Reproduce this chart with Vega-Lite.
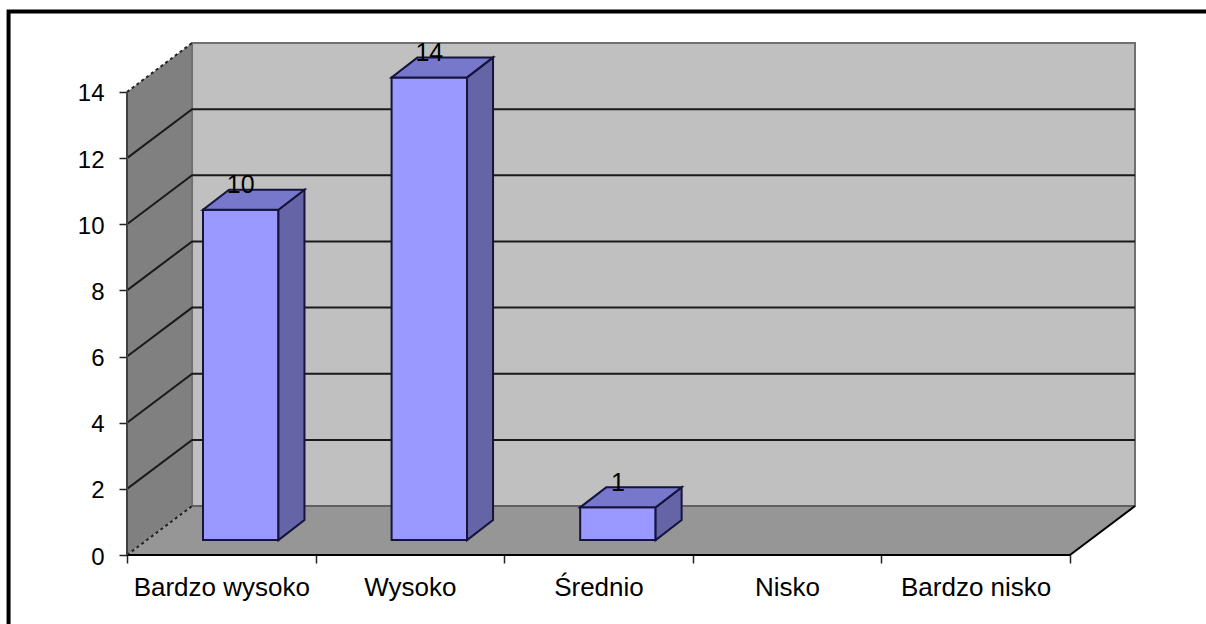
{
"$schema":"https://vega.github.io/schema/vega-lite/v6.json",
"width":1008,"height":512,
"autosize":{"type":"none"},
"padding":{"left":127,"top":43,"right":71,"bottom":69},
"background":"#ffffff",
"config":{"view":{"stroke":null},"font":"Liberation Sans","axis":{"title":null}},
"datasets":{
"bars":[{"category":"Bardzo wysoko","order":0,"value":10},{"category":"Wysoko","order":1,"value":14},{"category":"Średnio","order":2,"value":1},{"category":"Nisko","order":3,"value":0},{"category":"Bardzo nisko","order":4,"value":0}],
"levels":[{"level":0},{"level":2},{"level":4},{"level":6},{"level":8},{"level":10},{"level":12},{"level":14}]
},
"layer":[
{"data":{"name":"levels"},"transform":[{"filter":"datum.level==0"}],
 "mark":{"type":"rect","fill":null,"stroke":"#000000","strokeWidth":4,"clip":false},
 "encoding":{"x":{"datum":-0.628,"type":"quantitative","title":null,"scale":{"domain":[0,5.345],"nice":false,"zero":false},
   "axis":{"values":[0,0.5,1,1.5,2,2.5,3,3.5,4,4.5,5],"title":null,"grid":false,"domain":false,"tickSize":8,"tickColor":"#222222","tickWidth":1.5,"tickOpacity":{"expr":"datum.value%1==0?1:0"},"labelFontSize":26,"labelColor":"#000000","labelPadding":11,"labelOverlap":false,"labelBound":false,"labelFlush":false,"labelFont":"Liberation Sans","labelExpr":"datum.value%1==0?'':['Bardzo wysoko','Wysoko','Średnio','Nisko','Bardzo nisko'][floor(datum.value)]"}},
  "x2":{"datum":6},
  "y":{"datum":16.43,"type":"quantitative","title":null,"scale":{"domain":[0,15.48],"nice":false,"zero":false},
   "axis":{"values":[0,2,4,6,8,10,12,14],"title":null,"grid":false,"domain":false,"tickSize":8,"tickColor":"#222222","tickWidth":1.5,"labelFontSize":24,"labelColor":"#000000","labelPadding":15,"labelOffset":2,"labelFont":"Liberation Sans","labelOverlap":false,"labelBound":false}},
  "y2":{"datum":-3}}},
{"data":{"name":"levels"},
 "transform":[{"filter":"datum.level==14"},{"calculate":"[0,1]","as":"d"},{"flatten":["d"]},{"calculate":"datum.d*0.345","as":"px"},{"calculate":"datum.d*1.48","as":"py"},{"calculate":"datum.level+datum.d*1.48","as":"py2"}],
 "mark":{"type":"area","fill":"#808080","opacity":1,"line":false},
 "encoding":{"x":{"field":"px","type":"quantitative","title":null,"scale":{"domain":[0,5.345],"nice":false,"zero":false}},"y":{"field":"py","type":"quantitative","title":null,"scale":{"domain":[0,15.48],"nice":false,"zero":false}},"y2":{"field":"py2"}}},
{"data":{"name":"levels"},"transform":[{"filter":"datum.level==0"}],
 "mark":{"type":"rect","fill":"#C0C0C0","stroke":"#707070","strokeWidth":2},
 "encoding":{"x":{"datum":0.345,"type":"quantitative","title":null,"scale":{"domain":[0,5.345],"nice":false,"zero":false}},"x2":{"datum":5.345},"y":{"datum":1.48,"type":"quantitative","title":null,"scale":{"domain":[0,15.48],"nice":false,"zero":false}},"y2":{"datum":15.48}}},
{"data":{"name":"levels"},
 "transform":[{"filter":"datum.level==0"},{"calculate":"[0,1,2,3]","as":"d"},{"flatten":["d"]},{"calculate":"[0,0.345,5,5.345][datum.d]","as":"px"},{"calculate":"[0,0,0,1.48][datum.d]","as":"py"},{"calculate":"[0,1.48,1.48,1.48][datum.d]","as":"py2"}],
 "mark":{"type":"area","fill":"#969696","opacity":1,"line":false},
 "encoding":{"x":{"field":"px","type":"quantitative","title":null,"scale":{"domain":[0,5.345],"nice":false,"zero":false}},"y":{"field":"py","type":"quantitative","title":null,"scale":{"domain":[0,15.48],"nice":false,"zero":false}},"y2":{"field":"py2"}}},
{"data":{"name":"levels"},
 "transform":[{"filter":"datum.level>0 && datum.level<14"},{"calculate":"[0,1,2]","as":"d"},{"flatten":["d"]},{"calculate":"[0,0.345,5.345][datum.d]","as":"px"},{"calculate":"datum.level+(datum.d>0?1.48:0)","as":"py"}],
 "mark":{"type":"line","color":"#1a1a1a","strokeWidth":2},
 "encoding":{"x":{"field":"px","type":"quantitative","title":null,"scale":{"domain":[0,5.345],"nice":false,"zero":false}},"y":{"field":"py","type":"quantitative","title":null,"scale":{"domain":[0,15.48],"nice":false,"zero":false}},"detail":{"field":"level"}}},
{"data":{"name":"levels"},
 "transform":[{"filter":"datum.level==0 || datum.level==14"},{"calculate":"[0,1]","as":"d"},{"flatten":["d"]},{"calculate":"datum.d*0.345","as":"px"},{"calculate":"datum.level+datum.d*1.48","as":"py"}],
 "mark":{"type":"line","color":"#222222","strokeWidth":2,"strokeDash":[3,3]},
 "encoding":{"x":{"field":"px","type":"quantitative","title":null,"scale":{"domain":[0,5.345],"nice":false,"zero":false}},"y":{"field":"py","type":"quantitative","title":null,"scale":{"domain":[0,15.48],"nice":false,"zero":false}},"detail":{"field":"level"}}},
{"data":{"name":"levels"},
 "transform":[{"filter":"datum.level==0"},{"calculate":"[0,1]","as":"d"},{"flatten":["d"]},{"calculate":"0.345+datum.d*5","as":"px"},{"calculate":"1.48","as":"py"}],
 "mark":{"type":"line","color":"#606060","strokeWidth":2},
 "encoding":{"x":{"field":"px","type":"quantitative","title":null,"scale":{"domain":[0,5.345],"nice":false,"zero":false}},"y":{"field":"py","type":"quantitative","title":null,"scale":{"domain":[0,15.48],"nice":false,"zero":false}}}},
{"data":{"name":"levels"},
 "transform":[{"filter":"datum.level==0"},{"calculate":"[0,1,2]","as":"d"},{"flatten":["d"]},{"calculate":"[0,5,5.345][datum.d]","as":"px"},{"calculate":"[0,0,1.48][datum.d]","as":"py"}],
 "mark":{"type":"line","color":"#000000","strokeWidth":2},
 "encoding":{"x":{"field":"px","type":"quantitative","title":null,"scale":{"domain":[0,5.345],"nice":false,"zero":false}},"y":{"field":"py","type":"quantitative","title":null,"scale":{"domain":[0,15.48],"nice":false,"zero":false}}}},
{"data":{"name":"levels"},"transform":[{"filter":"datum.level==0"}],
 "mark":{"type":"rule","color":"#404040","strokeWidth":2},
 "encoding":{"x":{"datum":0,"type":"quantitative","title":null,"scale":{"domain":[0,5.345],"nice":false,"zero":false}},"y":{"datum":0,"type":"quantitative","title":null,"scale":{"domain":[0,15.48],"nice":false,"zero":false}},"y2":{"datum":14}}},
{"data":{"name":"bars"},
 "transform":[{"filter":"datum.value>0"},{"calculate":"datum.order+0.403","as":"x0"},{"calculate":"datum.order+0.803","as":"x1"},{"calculate":"datum.value+0.44","as":"top"},{"calculate":"0.45","as":"base"}],
 "mark":{"type":"rect","fill":"#9999FF","stroke":"#14143c","strokeWidth":2},
 "encoding":{"x":{"field":"x0","type":"quantitative","title":null,"scale":{"domain":[0,5.345],"nice":false,"zero":false}},"x2":{"field":"x1"},"y":{"field":"base","type":"quantitative","title":null,"scale":{"domain":[0,15.48],"nice":false,"zero":false}},"y2":{"field":"top"}}},
{"data":{"name":"bars"},
 "transform":[{"filter":"datum.value>0"},{"calculate":"[0,1]","as":"d"},{"flatten":["d"]},{"calculate":"datum.order+0.803+datum.d*0.138","as":"px"},{"calculate":"0.45+datum.d*0.605","as":"py"},{"calculate":"datum.value+0.44+datum.d*0.605","as":"py2"}],
 "mark":{"type":"area","fill":"#6464A6","opacity":1,"stroke":"#14143c","strokeWidth":2,"line":false},
 "encoding":{"x":{"field":"px","type":"quantitative","title":null,"scale":{"domain":[0,5.345],"nice":false,"zero":false}},"y":{"field":"py","type":"quantitative","title":null,"scale":{"domain":[0,15.48],"nice":false,"zero":false}},"y2":{"field":"py2"},"detail":{"field":"category"}}},
{"data":{"name":"bars"},
 "transform":[{"filter":"datum.value>0"},{"calculate":"[0,1]","as":"d"},{"flatten":["d"]},{"calculate":"datum.order+0.403+datum.d*0.138","as":"px"},{"calculate":"datum.order+0.803+datum.d*0.138","as":"px2"},{"calculate":"datum.value+0.44+datum.d*0.605","as":"py"}],
 "mark":{"type":"area","orient":"horizontal","fill":"#7777CC","opacity":1,"stroke":"#14143c","strokeWidth":2,"line":false},
 "encoding":{"x":{"field":"px","type":"quantitative","title":null,"scale":{"domain":[0,5.345],"nice":false,"zero":false}},"x2":{"field":"px2"},"y":{"field":"py","type":"quantitative","title":null,"scale":{"domain":[0,15.48],"nice":false,"zero":false}},"detail":{"field":"category"}}},
{"data":{"name":"bars"},
 "transform":[{"filter":"datum.value>0"},{"calculate":"datum.order+0.603","as":"lx"},{"calculate":"datum.value+0.93","as":"ly"}],
 "mark":{"type":"text","fontSize":25,"font":"Liberation Sans","color":"#000000","baseline":"alphabetic","align":"center"},
 "encoding":{"x":{"field":"lx","type":"quantitative","title":null,"scale":{"domain":[0,5.345],"nice":false,"zero":false}},"y":{"field":"ly","type":"quantitative","title":null,"scale":{"domain":[0,15.48],"nice":false,"zero":false}},"text":{"field":"value","type":"quantitative"}}}
]
}
